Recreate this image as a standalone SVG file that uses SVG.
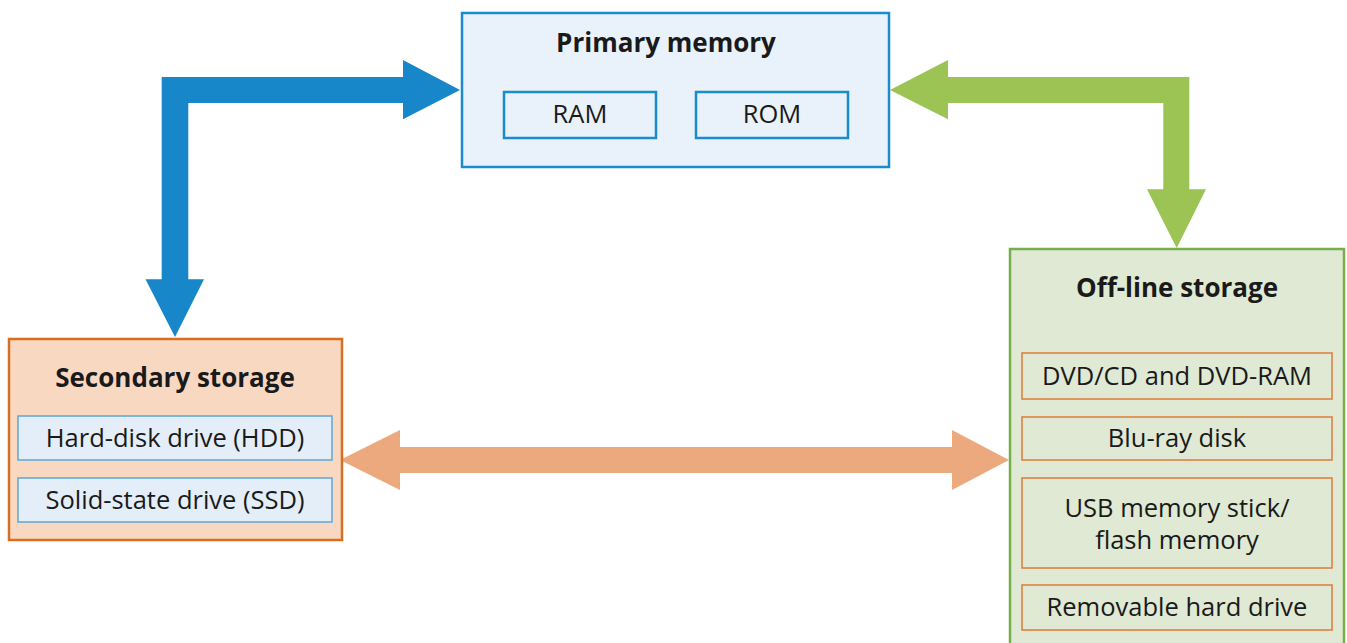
<svg xmlns="http://www.w3.org/2000/svg" width="1347" height="643" viewBox="0 0 1347 643">
<style>
text{font-family:"Open Sans","Noto Sans","Liberation Sans",sans-serif;fill:#1a1a1a;text-anchor:middle}
.t{font-weight:bold;font-size:26px}
.l{font-size:25.5px}
.pbox{fill:#e9f2fa;stroke:#1a8ccc;stroke-width:2.5}
.ibox{fill:#e9f2fa;stroke:#1a8ccc;stroke-width:2.5}
.sbox{fill:#f9d8c1;stroke:#d66f22;stroke-width:2.5}
.hbox{fill:#e3eef8;stroke:#5fa6d3;stroke-width:1.5}
.obox{fill:#dfe9d3;stroke:#74b047;stroke-width:2.5}
.gbox{fill:#dfe9d3;stroke:#e07b39;stroke-width:1.5}
</style>
<g id="connectors">
<path d="M161.7,77 H403 V60 L460,90 L403,119.3 V103 H188.3 V279.3 H204 L175,337 L145.5,279.3 H161.7 Z" fill="#1787c9"/>
<path d="M890,90 L948,60 V77 H1189.3 V189.3 H1206 L1176.7,248 L1147,189.3 H1163.3 V103 H948 V119.3 Z" fill="#9bc454"/>
<path d="M340,460 L400,430 V447 H952 V430 L1009,460 L952,490 V473 H400 V490 Z" fill="#eba97d"/>
</g>
<g id="primary">
<rect class="pbox" x="462" y="13" width="427" height="154"/>
<text class="t" x="666" y="52">Primary memory</text>
<rect class="ibox" x="504" y="92" width="152" height="46"/>
<text class="l" x="580" y="123">RAM</text>
<rect class="ibox" x="696" y="92" width="152" height="46"/>
<text class="l" x="772" y="123">ROM</text>
</g>
<g id="secondary">
<rect class="sbox" x="9" y="339" width="333" height="201"/>
<text class="t" x="175" y="387">Secondary storage</text>
<rect class="hbox" x="18" y="416" width="314" height="44"/>
<text class="l" x="175" y="447">Hard-disk drive (HDD)</text>
<rect class="hbox" x="18" y="478" width="314" height="44"/>
<text class="l" x="175" y="509">Solid-state drive (SSD)</text>
</g>
<g id="offline">
<rect class="obox" x="1010" y="249" width="334" height="410"/>
<text class="t" x="1177" y="297">Off-line storage</text>
<rect class="gbox" x="1022" y="353" width="310" height="46"/>
<text class="l" x="1177" y="385">DVD/CD and DVD-RAM</text>
<rect class="gbox" x="1022" y="417" width="310" height="43"/>
<text class="l" x="1177" y="447">Blu-ray disk</text>
<rect class="gbox" x="1022" y="478" width="310" height="90"/>
<text class="l" x="1177" y="517">USB memory stick/<tspan x="1177" y="549">flash memory</tspan></text>
<rect class="gbox" x="1022" y="585" width="310" height="45"/>
<text class="l" x="1177" y="616">Removable hard drive</text>
</g>
</svg>
